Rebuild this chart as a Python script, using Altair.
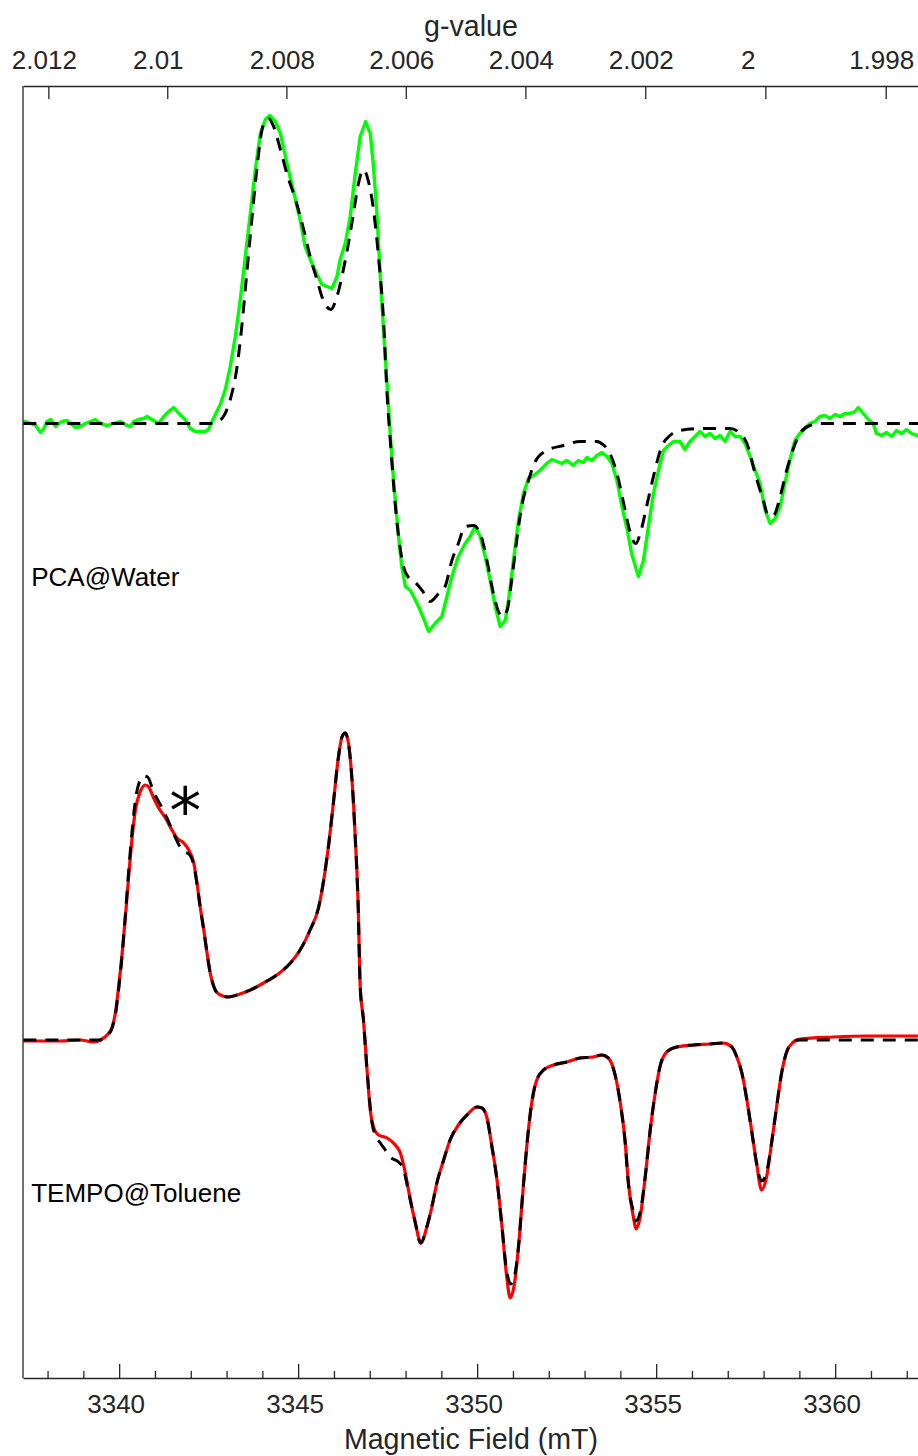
import altair as alt
import pandas as pd

# ---------------------------------------------------------------------------
# EPR first-derivative spectra: field in mT, intensity in arbitrary units
# ---------------------------------------------------------------------------

# PCA@Water, experimental
water_exp_field = [
    3337.31, 3337.37, 3337.51, 3337.65, 3337.79, 3337.88, 3337.97, 3338.07, 3338.21, 3338.30,
    3338.39, 3338.53, 3338.62, 3338.76, 3338.90, 3339.04, 3339.18, 3339.32, 3339.46, 3339.65,
    3339.83, 3340.02, 3340.21, 3340.30, 3340.39, 3340.53, 3340.67, 3340.76, 3340.90, 3341.09,
    3341.23, 3341.37, 3341.51, 3341.65, 3341.83, 3341.97, 3342.11, 3342.25, 3342.39, 3342.48,
    3342.62, 3342.81, 3342.95, 3343.09, 3343.23, 3343.37, 3343.51, 3343.65, 3343.79, 3343.93,
    3344.07, 3344.19, 3344.35, 3344.49, 3344.63, 3344.77, 3344.91, 3345.04, 3345.18, 3345.37,
    3345.51, 3345.65, 3345.79, 3345.93, 3346.07, 3346.16, 3346.30, 3346.44, 3346.58, 3346.72,
    3346.87, 3347.00, 3347.09, 3347.19, 3347.28, 3347.37, 3347.47, 3347.56, 3347.65, 3347.79,
    3347.88, 3347.98, 3348.12, 3348.21, 3348.35, 3348.49, 3348.63, 3348.81, 3349.00, 3349.14,
    3349.28, 3349.46, 3349.65, 3349.79, 3349.93, 3350.07, 3350.21, 3350.35, 3350.49, 3350.63,
    3350.77, 3350.86, 3351.00, 3351.14, 3351.28, 3351.42, 3351.56, 3351.74, 3351.93, 3352.07,
    3352.21, 3352.35, 3352.49, 3352.67, 3352.81, 3352.95, 3353.05, 3353.19, 3353.33, 3353.47,
    3353.61, 3353.75, 3353.89, 3354.03, 3354.17, 3354.30, 3354.49, 3354.63, 3354.77, 3354.91,
    3355.05, 3355.19, 3355.33, 3355.47, 3355.65, 3355.79, 3355.93, 3356.07, 3356.21, 3356.35,
    3356.49, 3356.63, 3356.77, 3356.91, 3357.05, 3357.19, 3357.33, 3357.47, 3357.61, 3357.75,
    3357.89, 3358.03, 3358.17, 3358.31, 3358.45, 3358.58, 3358.72, 3358.86, 3359.00, 3359.14,
    3359.28, 3359.42, 3359.56, 3359.70, 3359.84, 3359.98, 3360.12, 3360.26, 3360.40, 3360.54,
    3360.63, 3360.77, 3360.91, 3361.05, 3361.14, 3361.28, 3361.42, 3361.56, 3361.70, 3361.84,
    3361.98, 3362.12, 3362.26, 3362.30,
]
water_exp_int = [
    0.02, 0.02, 0.00, -0.02, -0.09, -0.05, 0.02, 0.04, -0.03, 0.00,
    0.02, 0.03, 0.00, -0.04, -0.03, 0.00, 0.02, 0.04, 0.00, -0.02,
    0.00, 0.02, -0.02, -0.03, 0.02, 0.04, 0.05, 0.07, 0.04, 0.00,
    0.07, 0.12, 0.16, 0.10, 0.04, -0.05, -0.08, -0.08, -0.08, -0.06,
    0.05, 0.19, 0.34, 0.57, 0.87, 1.24, 1.67, 2.10, 2.54, 2.90,
    3.04, 3.08, 3.02, 2.90, 2.67, 2.45, 2.24, 2.04, 1.77, 1.60,
    1.49, 1.39, 1.37, 1.35, 1.47, 1.64, 1.80, 2.07, 2.50, 2.87,
    3.02, 2.90, 2.57, 2.07, 1.47, 0.94, 0.39, -0.12, -0.57, -1.13,
    -1.43, -1.63, -1.67, -1.73, -1.83, -1.95, -2.08, -2.00, -1.93, -1.73,
    -1.53, -1.33, -1.20, -1.13, -1.03, -1.13, -1.33, -1.57, -1.83, -2.03,
    -1.97, -1.77, -1.37, -0.97, -0.70, -0.55, -0.52, -0.47, -0.40, -0.36,
    -0.38, -0.40, -0.37, -0.42, -0.37, -0.39, -0.34, -0.37, -0.32, -0.29,
    -0.33, -0.40, -0.57, -0.83, -1.05, -1.30, -1.53, -1.37, -1.03, -0.70,
    -0.47, -0.27, -0.22, -0.18, -0.18, -0.26, -0.18, -0.13, -0.08, -0.13,
    -0.10, -0.15, -0.12, -0.18, -0.08, -0.13, -0.13, -0.20, -0.33, -0.47,
    -0.60, -0.87, -1.00, -0.95, -0.83, -0.60, -0.37, -0.17, -0.10, -0.05,
    0.00, 0.02, 0.07, 0.08, 0.05, 0.09, 0.07, 0.10, 0.10, 0.12,
    0.16, 0.10, 0.04, 0.00, -0.10, -0.12, -0.09, -0.13, -0.07, -0.10,
    -0.06, -0.10, -0.12, -0.11,
]

# PCA@Water, simulation
water_sim_field = [
    3337.31, 3342.58, 3342.73, 3342.90, 3343.09, 3343.28, 3343.42, 3343.56, 3343.70, 3343.84,
    3344.00, 3344.16, 3344.30, 3344.49, 3344.67, 3344.91, 3345.14, 3345.32, 3345.51, 3345.70,
    3345.90, 3346.07, 3346.25, 3346.39, 3346.53, 3346.67, 3346.81, 3346.95, 3347.09, 3347.23,
    3347.37, 3347.47, 3347.56, 3347.74, 3347.93, 3348.09, 3348.26, 3348.45, 3348.67, 3348.91,
    3349.09, 3349.28, 3349.46, 3349.65, 3349.88, 3350.07, 3350.26, 3350.44, 3350.57, 3350.68,
    3350.82, 3350.95, 3351.09, 3351.23, 3351.42, 3351.61, 3351.93, 3352.40, 3352.86, 3353.33,
    3353.50, 3353.65, 3353.89, 3354.12, 3354.23, 3354.42, 3354.54, 3354.72, 3354.91, 3355.14,
    3355.37, 3355.65, 3356.21, 3357.05, 3357.33, 3357.52, 3357.75, 3357.98, 3358.12, 3358.26,
    3358.45, 3358.63, 3358.82, 3359.00, 3359.28, 3359.56, 3362.30,
]
water_sim_int = [
    0.00, 0.00, 0.02, 0.07, 0.24, 0.57, 1.00, 1.54, 2.07, 2.57,
    2.97, 3.05, 2.97, 2.74, 2.50, 2.24, 1.94, 1.67, 1.44, 1.22,
    1.14, 1.27, 1.54, 1.80, 2.10, 2.40, 2.54, 2.42, 2.14, 1.67,
    1.04, 0.29, -0.17, -0.97, -1.43, -1.55, -1.59, -1.67, -1.78, -1.70,
    -1.63, -1.37, -1.20, -1.03, -1.02, -1.10, -1.37, -1.70, -1.87, -1.93,
    -1.87, -1.57, -1.17, -0.83, -0.57, -0.38, -0.27, -0.22, -0.18, -0.18,
    -0.21, -0.27, -0.50, -0.87, -1.05, -1.20, -1.10, -0.83, -0.53, -0.23,
    -0.12, -0.07, -0.05, -0.05, -0.10, -0.20, -0.50, -0.77, -0.92, -0.92,
    -0.73, -0.47, -0.25, -0.10, -0.02, 0.00, 0.00,
]

# TEMPO@Toluene, experimental
toluene_exp_field = [
    3337.31, 3338.34, 3338.90, 3339.27, 3339.46, 3339.65, 3339.79, 3339.88, 3339.97, 3340.07,
    3340.16, 3340.25, 3340.35, 3340.44, 3340.56, 3340.72, 3340.81, 3340.95, 3341.09, 3341.28,
    3341.46, 3341.60, 3341.79, 3341.93, 3342.07, 3342.16, 3342.25, 3342.35, 3342.44, 3342.53,
    3342.67, 3342.81, 3343.04, 3343.28, 3343.65, 3344.02, 3344.39, 3344.77, 3345.04, 3345.32,
    3345.56, 3345.70, 3345.83, 3345.97, 3346.10, 3346.21, 3346.30, 3346.39, 3346.49, 3346.58,
    3346.66, 3346.72, 3346.81, 3346.91, 3347.00, 3347.09, 3347.23, 3347.47, 3347.70, 3347.84,
    3347.98, 3348.12, 3348.26, 3348.41, 3348.58, 3348.72, 3348.86, 3349.05, 3349.23, 3349.46,
    3349.70, 3349.98, 3350.12, 3350.26, 3350.40, 3350.54, 3350.68, 3350.80, 3350.91, 3351.03,
    3351.14, 3351.26, 3351.37, 3351.51, 3351.65, 3351.84, 3352.12, 3352.49, 3352.86, 3353.23,
    3353.47, 3353.65, 3353.84, 3353.98, 3354.12, 3354.21, 3354.35, 3354.42, 3354.54, 3354.68,
    3354.82, 3354.96, 3355.09, 3355.28, 3355.56, 3356.02, 3356.49, 3356.86, 3357.10, 3357.24,
    3357.38, 3357.52, 3357.65, 3357.79, 3357.93, 3358.07, 3358.21, 3358.35, 3358.49, 3358.63,
    3358.82, 3359.00, 3359.93, 3360.87, 3362.30,
]
toluene_exp_int = [
    -0.01, -0.01, 0.00, -0.02, 0.00, 0.05, 0.13, 0.27, 0.53, 0.87,
    1.23, 1.63, 2.03, 2.30, 2.47, 2.55, 2.53, 2.42, 2.32, 2.22,
    2.10, 2.02, 1.97, 1.90, 1.77, 1.57, 1.33, 1.10, 0.87, 0.67,
    0.50, 0.45, 0.43, 0.45, 0.50, 0.57, 0.65, 0.77, 0.90, 1.10,
    1.33, 1.60, 1.93, 2.37, 2.80, 3.03, 3.07, 2.97, 2.60, 2.03,
    1.37, 0.53, 0.20, -0.30, -0.70, -0.87, -0.95, -0.98, -1.05, -1.13,
    -1.33, -1.60, -1.83, -2.03, -1.87, -1.67, -1.43, -1.20, -1.00, -0.85,
    -0.75, -0.67, -0.68, -0.78, -1.07, -1.40, -1.87, -2.33, -2.58, -2.43,
    -2.07, -1.53, -1.07, -0.63, -0.40, -0.30, -0.25, -0.22, -0.18, -0.17,
    -0.15, -0.18, -0.35, -0.62, -1.02, -1.43, -1.77, -1.89, -1.77, -1.37,
    -0.90, -0.53, -0.27, -0.12, -0.07, -0.05, -0.04, -0.03, -0.07, -0.17,
    -0.33, -0.60, -0.90, -1.23, -1.50, -1.37, -1.03, -0.67, -0.33, -0.12,
    -0.02, 0.01, 0.03, 0.04, 0.04,
]

# TEMPO@Toluene, simulation
toluene_sim_field = [
    3337.31, 3339.46, 3339.65, 3339.79, 3339.88, 3339.97, 3340.07, 3340.16, 3340.25, 3340.35,
    3340.44, 3340.56, 3340.66, 3340.78, 3340.95, 3341.14, 3341.32, 3341.55, 3341.69, 3341.81,
    3341.93, 3342.07, 3342.16, 3342.25, 3342.35, 3342.44, 3342.53, 3342.67, 3342.81, 3343.04,
    3343.28, 3343.65, 3344.02, 3344.39, 3344.77, 3345.04, 3345.32, 3345.56, 3345.70, 3345.83,
    3345.97, 3346.10, 3346.21, 3346.30, 3346.39, 3346.49, 3346.58, 3346.66, 3346.72, 3346.81,
    3346.91, 3347.05, 3347.17, 3347.28, 3347.42, 3347.56, 3347.79, 3347.92, 3348.03, 3348.12,
    3348.26, 3348.41, 3348.58, 3348.72, 3348.86, 3349.05, 3349.23, 3349.46, 3349.70, 3349.98,
    3350.12, 3350.26, 3350.40, 3350.54, 3350.68, 3350.80, 3350.92, 3351.03, 3351.14, 3351.26,
    3351.37, 3351.51, 3351.65, 3351.84, 3352.12, 3352.49, 3352.86, 3353.23, 3353.47, 3353.65,
    3353.84, 3353.98, 3354.12, 3354.21, 3354.35, 3354.42, 3354.54, 3354.68, 3354.82, 3354.96,
    3355.09, 3355.28, 3355.56, 3356.02, 3356.49, 3356.86, 3357.10, 3357.24, 3357.38, 3357.52,
    3357.65, 3357.79, 3357.93, 3358.07, 3358.21, 3358.35, 3358.49, 3358.63, 3358.82, 3359.00,
    3362.30,
]
toluene_sim_int = [
    0.00, 0.00, 0.04, 0.12, 0.25, 0.50, 0.85, 1.25, 1.68, 2.10,
    2.40, 2.59, 2.64, 2.63, 2.48, 2.35, 2.22, 2.03, 1.93, 1.88,
    1.86, 1.75, 1.56, 1.33, 1.10, 0.87, 0.67, 0.50, 0.45, 0.43,
    0.45, 0.50, 0.57, 0.65, 0.77, 0.90, 1.10, 1.33, 1.60, 1.93,
    2.37, 2.80, 3.03, 3.07, 2.97, 2.60, 2.03, 1.37, 0.53, 0.20,
    -0.30, -0.83, -0.97, -1.03, -1.10, -1.17, -1.22, -1.28, -1.45, -1.60,
    -1.83, -2.03, -1.87, -1.67, -1.43, -1.20, -1.00, -0.85, -0.75, -0.67,
    -0.68, -0.78, -1.07, -1.40, -1.87, -2.28, -2.44, -2.36, -2.07, -1.53,
    -1.07, -0.63, -0.40, -0.30, -0.25, -0.22, -0.18, -0.17, -0.15, -0.18,
    -0.35, -0.62, -1.02, -1.43, -1.72, -1.81, -1.72, -1.37, -0.90, -0.53,
    -0.27, -0.12, -0.07, -0.05, -0.04, -0.03, -0.07, -0.17, -0.33, -0.60,
    -0.90, -1.23, -1.41, -1.32, -1.03, -0.67, -0.33, -0.12, -0.02, 0.00,
    0.00,
]

# Axis ticks
field_major = [3340, 3345, 3350, 3355, 3360]
field_minor = [3338, 3339, 3341, 3342, 3343, 3344, 3346, 3347, 3348, 3349,
               3351, 3352, 3353, 3354, 3356, 3357, 3358, 3359, 3361, 3362]
g_ticks = [2.012, 2.010, 2.008, 2.006, 2.004, 2.002, 2.000, 1.998]

# Annotations
sample_names = ["PCA@Water", "TEMPO@Toluene"]

# ---------------------------------------------------------------------------
FIELD_DOMAIN = [3337.3, 3362.3]
G_CONST = 6716.1          # h*nu/mu_B expressed in mT, g = G_CONST / B
WATER_OFFSET = 6.165      # vertical stacking of the water spectra
Y_DOMAIN = [-3.38, 9.54]

W, H = 895, 1292
FONT = "Liberation Sans"
AX = "#262626"


def frame(field, inten, offset=0.0):
    return pd.DataFrame({"field": field, "y": [v + offset for v in inten]})


xscale = alt.Scale(domain=FIELD_DOMAIN, nice=False, zero=False)
yscale = alt.Scale(domain=Y_DOMAIN, nice=False, zero=False)

bottom_axis = alt.Axis(
    orient="bottom", values=field_major, format="d", ticks=False, grid=False,
    domainColor=AX, domainWidth=1.3,
    labelFont=FONT, labelFontSize=26, labelColor=AX, labelPadding=13, labelOffset=-4,
    title="Magnetic Field (mT)", titleFont=FONT, titleFontSize=28.6,
    titleFontWeight="normal", titleColor=AX, titlePadding=8,
)
top_axis = alt.Axis(
    orient="top", values=[G_CONST / g for g in g_ticks], ticks=False, grid=False,
    labelExpr=f"format({G_CONST}/datum.value, '.3~f')",
    domainColor=AX, domainWidth=1.3,
    labelFont=FONT, labelFontSize=26, labelColor=AX, labelPadding=13,
    labelOffset={
        "condition": [
            {"test": f"format({G_CONST}/datum.value, '.3~f') == '2'", "value": -18},
            {"test": f"format({G_CONST}/datum.value, '.3~f') == '2.01'", "value": -10},
        ],
        "value": -5,
    },
    title="g-value", titleFont=FONT, titleFontSize=28.6,
    titleFontWeight="normal", titleColor=AX, titlePadding=6,
)


def spectrum(df, color, width=3, dashed=False, x_axis=None, interp="linear"):
    kw = dict(color=color, strokeWidth=width, strokeJoin="round", clip=True, interpolate=interp)
    if dashed:
        kw.update(strokeDash=[13, 9], strokeCap="butt")
    x = alt.X("field:Q", scale=xscale, axis=x_axis) if x_axis else alt.X("field:Q", scale=xscale, axis=None)
    y = alt.Y("y:Q", scale=yscale, axis=None)
    return alt.Chart(df).mark_line(**kw).encode(x=x, y=y, order="field:Q")


water_exp = spectrum(frame(water_exp_field, water_exp_int, WATER_OFFSET), "#00ff00",
                     width=3.4, x_axis=bottom_axis)
water_sim = spectrum(frame(water_sim_field, water_sim_int, WATER_OFFSET), "black",
                     dashed=True, interp="monotone")
tol_exp = spectrum(frame(toluene_exp_field, toluene_exp_int), "#ff0000",
                   width=3.2, interp="monotone")
tol_sim = spectrum(frame(toluene_sim_field, toluene_sim_int), "black",
                   dashed=True, interp="monotone")

# Left frame line
left_frame = alt.Chart(pd.DataFrame({"field": [FIELD_DOMAIN[0]]})).mark_rule(
    color=AX, strokeWidth=1.3
).encode(x=alt.X("field:Q", scale=xscale, axis=None), y=alt.value(0), y2=alt.value(H))

# Inward-pointing tick marks on the field axis (major and minor) and g axis
major_ticks = alt.Chart(pd.DataFrame({"field": field_major})).mark_rule(
    color=AX, strokeWidth=1.3
).encode(x=alt.X("field:Q", scale=xscale, axis=None), y=alt.value(H), y2=alt.value(H - 14))
minor_ticks = alt.Chart(pd.DataFrame({"field": field_minor})).mark_rule(
    color=AX, strokeWidth=1.3
).encode(x=alt.X("field:Q", scale=xscale, axis=None), y=alt.value(H), y2=alt.value(H - 7))
g_df = pd.DataFrame({"g": g_ticks})
g_df["field"] = G_CONST / g_df["g"]
g_ticks_layer = alt.Chart(g_df).mark_rule(color=AX, strokeWidth=1.3).encode(
    x=alt.X("field:Q", scale=xscale, axis=top_axis), y=alt.value(0), y2=alt.value(13)
)

# Sample labels and the marker on the TEMPO shoulder
labels_df = pd.DataFrame({
    "field": [3337.53, 3337.53],
    "y": [WATER_OFFSET - 1.545, -1.54],
    "text": sample_names,
})
labels = alt.Chart(labels_df).mark_text(
    align="left", baseline="middle", font=FONT, fontSize=26, color="black"
).encode(
    x=alt.X("field:Q", scale=xscale, axis=None),
    y=alt.Y("y:Q", scale=yscale, axis=None),
    text="text:N",
)
star = alt.Chart(pd.DataFrame({"field": [3341.83], "y": [2.41], "text": ["*"]})).mark_text(
    align="center", baseline="alphabetic", dy=34, font="DejaVu Sans", fontSize=64,
    color="black"
).encode(
    x=alt.X("field:Q", scale=xscale, axis=None),
    y=alt.Y("y:Q", scale=yscale, axis=None),
    text="text:N",
)

chart = alt.layer(
    water_exp, water_sim, tol_exp, tol_sim,
    left_frame, major_ticks, minor_ticks, g_ticks_layer, labels, star,
).resolve_axis(x="independent").properties(
    width=W, height=H,
    padding={"left": 23, "top": 86, "right": 0, "bottom": 78},
    autosize=alt.AutoSizeParams(type="none"),
    background="white",
).configure_view(strokeWidth=0)

chart.save("out.html", embed_options={"renderer": "svg", "actions": False})
